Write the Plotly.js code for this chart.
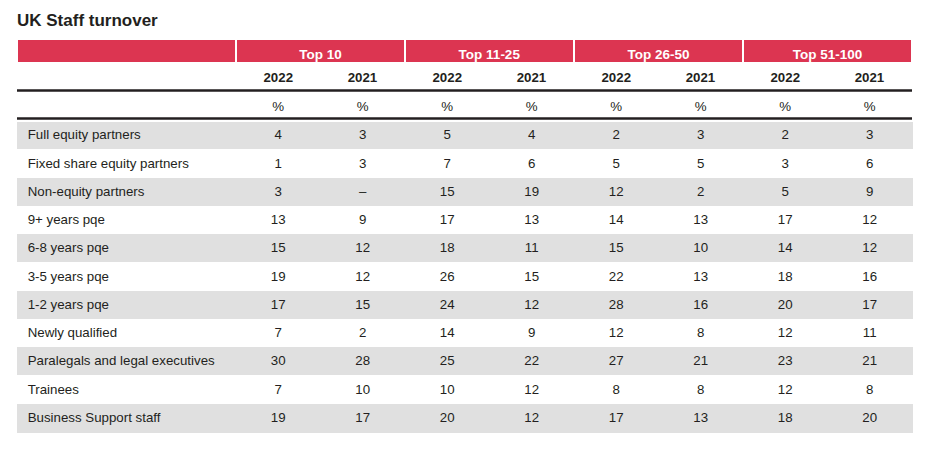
<!DOCTYPE html>
<html>
<head>
<meta charset="utf-8">
<script src="https://cdn.plot.ly/plotly-3.0.1.min.js"></script>
<style>html,body{margin:0;padding:0;background:#fff;}#chart{width:935px;height:454px;}</style>
</head>
<body>
<div id="chart"></div>
<script>
// ---- data ----
const groups = ["Top 10", "Top 11-25", "Top 26-50", "Top 51-100"];
const years = ["2022", "2021"];
const unitLabel = "%";
const categories = [
  "Full equity partners",
  "Fixed share equity partners",
  "Non-equity partners",
  "9+ years pqe",
  "6-8 years pqe",
  "3-5 years pqe",
  "1-2 years pqe",
  "Newly qualified",
  "Paralegals and legal executives",
  "Trainees",
  "Business Support staff"
];
const top10_2022    = [4, 1, 3, 13, 15, 19, 17, 7, 30, 7, 19];
const top10_2021    = [3, 3, null, 9, 12, 12, 15, 2, 28, 10, 17];
const top11_25_2022 = [5, 7, 15, 17, 18, 26, 24, 14, 25, 10, 20];
const top11_25_2021 = [4, 6, 19, 13, 11, 15, 12, 9, 22, 12, 12];
const top26_50_2022 = [2, 5, 12, 14, 15, 22, 28, 12, 27, 8, 17];
const top26_50_2021 = [3, 5, 2, 13, 10, 13, 16, 8, 21, 8, 13];
const top51_100_2022 = [2, 3, 5, 17, 14, 18, 20, 12, 23, 12, 18];
const top51_100_2021 = [3, 6, 9, 12, 12, 16, 17, 11, 21, 8, 20];

// ---- build ----
const W = 935, H = 454;
const fx = px => px / W;
const fy = px => 1 - px / H;
const RED = "#dc3551", GREY = "#e0e0e0", INK = "#231f20";
const CLEAR = "rgba(0,0,0,0)";
const FONT = "Liberation Sans, Arial, Helvetica, sans-serif";
const fmt = v => (v === null ? "\u2013" : String(v));

const seriesCols = [top10_2022, top10_2021, top11_25_2022, top11_25_2021,
                    top26_50_2022, top26_50_2021, top51_100_2022, top51_100_2021];

const cellValues = [categories.map(c => "\u2009" + c)].concat(seriesCols.map(col => col.map(fmt)));
const rowFill = categories.map((_, i) => (i % 2 === 0 ? GREY : "#ffffff"));
const fillCols = cellValues.map(() => rowFill);

const headerValues = [["", ""]];
groups.forEach(() => years.forEach(y => headerValues.push(["<b>" + y + "</b>", unitLabel])));

const firstW = 219, colW = (912 - 17 - firstW) / 8;

const groupTable = {
  type: "table",
  domain: {x: [fx(17), fx(912)], y: [fy(120), fy(39)]},
  columnwidth: [firstW, colW * 2, colW * 2, colW * 2, colW * 2],
  header: {
    values: [[""]].concat(groups.map(g => ["<b>" + g + "</b>"])),
    align: "center",
    height: 23,
    fill: {color: RED},
    line: {color: "#ffffff", width: 2},
    font: {family: FONT, size: 13.5, color: "#ffffff"}
  },
  cells: {
    values: [[""], [""], [""], [""], [""]],
    height: 10,
    fill: {color: CLEAR},
    line: {color: CLEAR, width: 0},
    font: {family: FONT, size: 1, color: CLEAR}
  }
};

const mainTable = {
  type: "table",
  domain: {x: [fx(17), fx(912)], y: [0, fy(62)]},
  columnwidth: [firstW].concat(Array(8).fill(colW)),
  header: {
    values: headerValues,
    align: "center",
    height: 28.5,
    fill: {color: "#ffffff"},
    line: {color: "#ffffff", width: 1},
    font: {family: FONT, size: 13.3, color: INK}
  },
  cells: {
    values: cellValues,
    align: ["left", "center"],
    height: 28.25,
    fill: {color: fillCols},
    line: {color: fillCols, width: 1},
    font: {family: FONT, size: 13.3, color: INK}
  }
};

const layout = {
  width: W, height: H,
  margin: {l: 0, r: 0, t: 0, b: 0},
  paper_bgcolor: "#ffffff",
  title: {
    text: "<b>UK Staff turnover</b>",
    x: fx(17), xref: "container", xanchor: "left",
    y: fy(20), yref: "container", yanchor: "middle",
    font: {family: FONT, size: 17, color: INK}
  },
  shapes: [
    {type: "line", xref: "paper", yref: "paper", x0: fx(17), x1: fx(912), y0: fy(90.5), y1: fy(90.5), line: {color: INK, width: 2.5}},
    {type: "line", xref: "paper", yref: "paper", x0: fx(17), x1: fx(912), y0: fy(118.5), y1: fy(118.5), line: {color: INK, width: 2.5}}
  ]
};

Plotly.newPlot("chart", [groupTable, mainTable], layout, {displayModeBar: false});
</script>
</body>
</html>
